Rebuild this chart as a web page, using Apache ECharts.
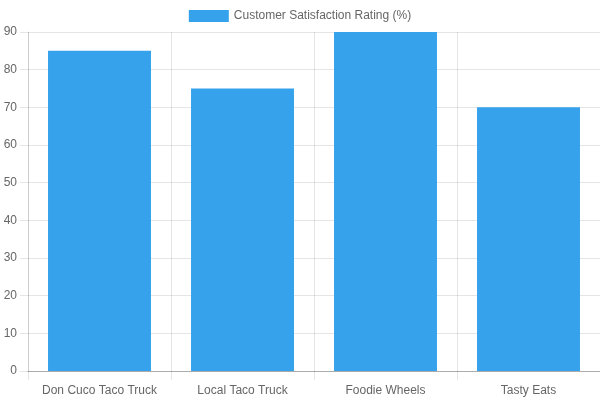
<!DOCTYPE html>
<html lang="en">
  <head>
    <meta charset="utf-8" />
    <title>Customer Satisfaction</title>
    <script src="https://cdn.jsdelivr.net/npm/echarts@6/dist/echarts.min.js"></script>
    <style>
      html, body { margin: 0; padding: 0; background: #fff; }
      #chart1 { width: 600px; height: 400px; }
    </style>
  </head>
  <body>
    <div id="chart1"></div>
    <script type="text/javascript">
      var trucks = ["Don Cuco Taco Truck", "Local Taco Truck", "Foodie Wheels", "Tasty Eats"];
      var rating = [85, 75, 90, 70];
      var seriesName = "Customer Satisfaction Rating (%)";

      var font = "'Liberation Sans', Arial, Helvetica, sans-serif";
      var myChart = echarts.init(document.getElementById("chart1"));
      myChart.setOption({
        animation: false,
        textStyle: { fontFamily: font },
        legend: {
          top: 5,
          left: "center",
          icon: "rect",
          itemWidth: 40,
          itemHeight: 12,
          textStyle: { color: "#666", fontSize: 12, fontFamily: font },
          data: [seriesName]
        },
        grid: { left: 28, right: 0, top: 32, bottom: 29, containLabel: false },
        xAxis: {
          type: "category",
          data: trucks,
          boundaryGap: true,
          axisLine: { lineStyle: { color: "rgba(0,0,0,0.25)" } },
          axisTick: { show: true, length: 9, lineStyle: { color: "rgba(0,0,0,0.1)" } },
          splitLine: { show: true, lineStyle: { color: "rgba(0,0,0,0.1)" } },
          axisLabel: { color: "#666", fontSize: 12, margin: 14, interval: 0 }
        },
        yAxis: {
          type: "value",
          min: 0,
          max: 90,
          interval: 10,
          axisLine: { show: true, lineStyle: { color: "rgba(0,0,0,0.1)" } },
          axisTick: { show: true, length: 8, lineStyle: { color: "rgba(0,0,0,0.1)" } },
          splitLine: { show: true, lineStyle: { color: "rgba(0,0,0,0.1)" } },
          axisLabel: { color: "#666", fontSize: 12, margin: 11 }
        },
        series: [
          {
            name: seriesName,
            type: "bar",
            data: rating,
            barCategoryGap: "28%",
            itemStyle: { color: "#36A2EB" }
          }
        ]
      });
    </script>
  </body>
</html>
